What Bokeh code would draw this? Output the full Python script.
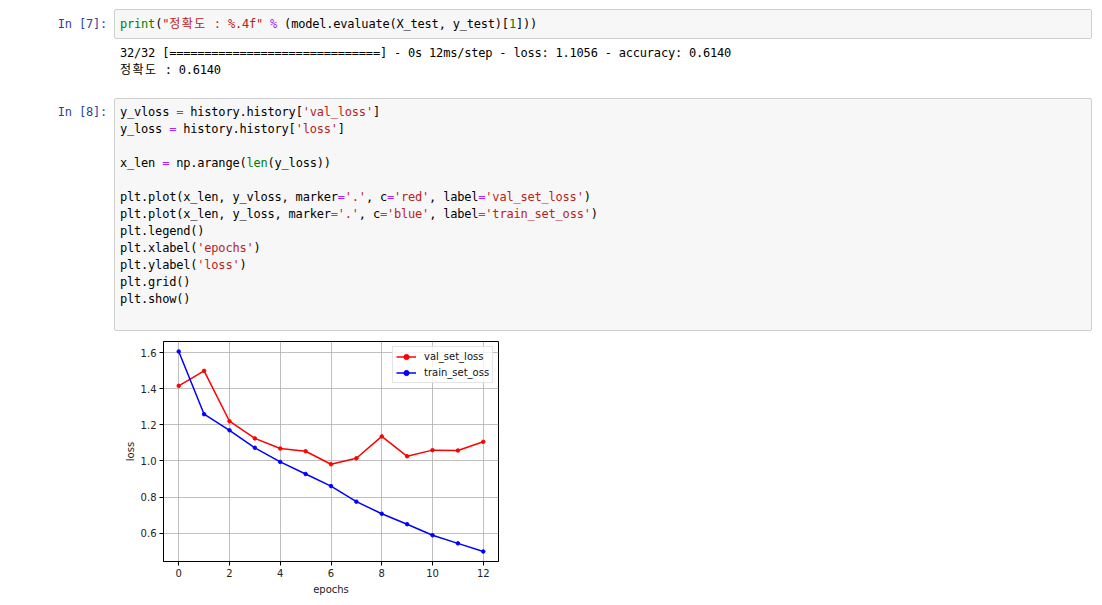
from bokeh.plotting import figure
from bokeh.models import Div, Spacer, FixedTicker, Range1d, NumeralTickFormatter
from bokeh.layouts import column, row
from bokeh.embed import file_html
from bokeh.resources import INLINE

# ---- data ----
epochs = list(range(13))
val_loss = [1.416, 1.499, 1.220, 1.125, 1.069, 1.054, 0.982, 1.015, 1.136, 1.026, 1.060, 1.058, 1.106]
train_loss = [1.606, 1.259, 1.170, 1.073, 0.995, 0.928, 0.861, 0.775, 0.708, 0.650, 0.589, 0.544, 0.499]
x_ticks = [0, 2, 4, 6, 8, 10, 12]
y_ticks = [0.6, 0.8, 1.0, 1.2, 1.4, 1.6]
val_label = "val_set_loss"
train_label = "train_set_oss"
x_title = "epochs"
y_title = "loss"

# ---- notebook cells (HTML text) ----
MONO = "'DejaVu Sans Mono', 'Noto Sans CJK KR', monospace"
G, R, P, K = "#008000", "#BA2121", "#AA22FF", "#000000"
DX, DY = 3, 3

def span(t, c=K):
    t = t.replace("&", "&amp;").replace("<", "&lt;").replace(">", "&gt;")
    return f'<span style="color:{c}">{t}</span>'

def ko(t, c=K):
    return f'<span style="color:{c};letter-spacing:1.5px">{t}</span>'

def line(x, cy, html):
    return (f'<div style="position:absolute;left:{x+DX}px;top:{cy-8.5+DY}px;height:17px;'
            f'line-height:17px;white-space:pre;font-family:{MONO};font-size:12px;'
            f'letter-spacing:-0.2px">{html}</div>')

def prompt(cy, t):
    return (f'<div style="position:absolute;left:{DX}px;width:99px;text-align:right;top:{cy-8.5+DY}px;'
            f'height:17px;line-height:17px;white-space:pre;font-family:{MONO};font-size:12px;'
            f'letter-spacing:-0.2px;color:#303F9F">{t}</div>')

def box(top, h):
    return (f'<div style="position:absolute;left:{106+DX}px;top:{top+DY}px;width:978px;height:{h}px;'
            f'box-sizing:border-box;border:1px solid #cfcfcf;border-radius:2px;background:#f7f7f7"></div>')

parts = []
parts.append(box(1, 30))
parts.append(prompt(16, "In [7]:"))
parts.append(line(112, 16,
    span("print", G) + span("(") + span('"', R) + ko("정확도", R) + span(' : %.4f"', R)
    + span(" ") + span("%", P) + span(" (model.evaluate(X_test, y_test)[") + span("1", G) + span("]))")))
parts.append(line(112, 45,
    span("32/32 [==============================] - 0s 12ms/step - loss: 1.1056 - accuracy: 0.6140")))
parts.append(line(112, 62.5, ko("정확도") + span(" : 0.6140")))

parts.append(box(90, 233))
parts.append(prompt(104, "In [8]:"))
code2 = [
    span("y_vloss ") + span("=", P) + span(" history.history[") + span("'val_loss'", R) + span("]"),
    span("y_loss ") + span("=", P) + span(" history.history[") + span("'loss'", R) + span("]"),
    "",
    span("x_len ") + span("=", P) + span(" np.arange(") + span("len", G) + span("(y_loss))"),
    "",
    span("plt.plot(x_len, y_vloss, marker") + span("=", P) + span("'.'", R) + span(", c") + span("=", P)
    + span("'red'", R) + span(", label") + span("=", P) + span("'val_set_loss'", R) + span(")"),
    span("plt.plot(x_len, y_loss, marker") + span("=", P) + span("'.'", R) + span(", c") + span("=", P)
    + span("'blue'", R) + span(", label") + span("=", P) + span("'train_set_oss'", R) + span(")"),
    span("plt.legend()"),
    span("plt.xlabel(") + span("'epochs'", R) + span(")"),
    span("plt.ylabel(") + span("'loss'", R) + span(")"),
    span("plt.grid()"),
    span("plt.show()"),
]
for i, c in enumerate(code2):
    if c:
        parts.append(line(112, 104 + 17 * i, c))

div = Div(text='<div style="position:relative;width:1086px;height:326px">' + "".join(parts) + "</div>",
          width=1086, height=326)

# ---- chart ----
ymin, ymax = min(train_loss + val_loss), max(train_loss + val_loss)
pad = (ymax - ymin) * 0.05
xpad = (max(epochs) - min(epochs)) * 0.05

p = figure(frame_width=335, frame_height=220,
           x_range=Range1d(min(epochs) - xpad, max(epochs) + xpad),
           y_range=Range1d(ymin - pad, ymax + pad),
           output_backend="svg", toolbar_location=None,
           min_border_left=64, min_border_right=10, min_border_top=5, min_border_bottom=35)

p.background_fill_color = "white"
p.outline_line_color = "black"
p.outline_line_width = 1

for ax in (p.xaxis[0], p.yaxis[0]):
    ax.axis_line_color = "black"
    ax.axis_line_width = 1
    ax.major_tick_out = 4
    ax.major_tick_in = 0
    ax.major_tick_line_color = "black"
    ax.minor_tick_line_color = None
    ax.major_label_text_font = "DejaVu Sans"
    ax.major_label_text_font_size = "10px"
    ax.major_label_text_color = "#222222"
    ax.major_label_standoff = 3
    ax.axis_label_text_font = "DejaVu Sans"
    ax.axis_label_text_font_size = "10px"
    ax.axis_label_text_font_style = "normal"
    ax.axis_label_text_color = "#222222"
    ax.axis_label_standoff = 4

p.yaxis[0].axis_label_standoff = 2
p.xaxis[0].ticker = FixedTicker(ticks=x_ticks)
p.yaxis[0].ticker = FixedTicker(ticks=y_ticks)
p.yaxis[0].formatter = NumeralTickFormatter(format="0.0")
p.xaxis[0].axis_label = x_title
p.yaxis[0].axis_label = y_title

p.xgrid.grid_line_color = "#b0b0b0"
p.ygrid.grid_line_color = "#b0b0b0"
p.xgrid.grid_line_width = 0.8
p.ygrid.grid_line_width = 0.8

p.line(epochs, val_loss, color="#ff0000", line_width=1.5, legend_label=val_label)
p.scatter(epochs, val_loss, color="#ff0000", size=3.5, legend_label=val_label)
p.line(epochs, train_loss, color="#0000ff", line_width=1.5, legend_label=train_label)
p.scatter(epochs, train_loss, color="#0000ff", size=3.5, legend_label=train_label)

lg = p.legend[0]
lg.location = (229, 178)
lg.background_fill_alpha = 0.8
lg.border_line_color = "#cccccc"
lg.border_line_width = 1
lg.label_text_font = "DejaVu Sans"
lg.label_text_font_size = "10px"
lg.label_text_color = "#111111"
lg.padding = 3
lg.spacing = 3
lg.margin = 0
lg.label_height = 13
lg.glyph_height = 13
lg.glyph_width = 20
lg.label_standoff = 8

layout = column(div, row(Spacer(width=99), p))

open("out.html", "w").write(file_html(layout, INLINE))
